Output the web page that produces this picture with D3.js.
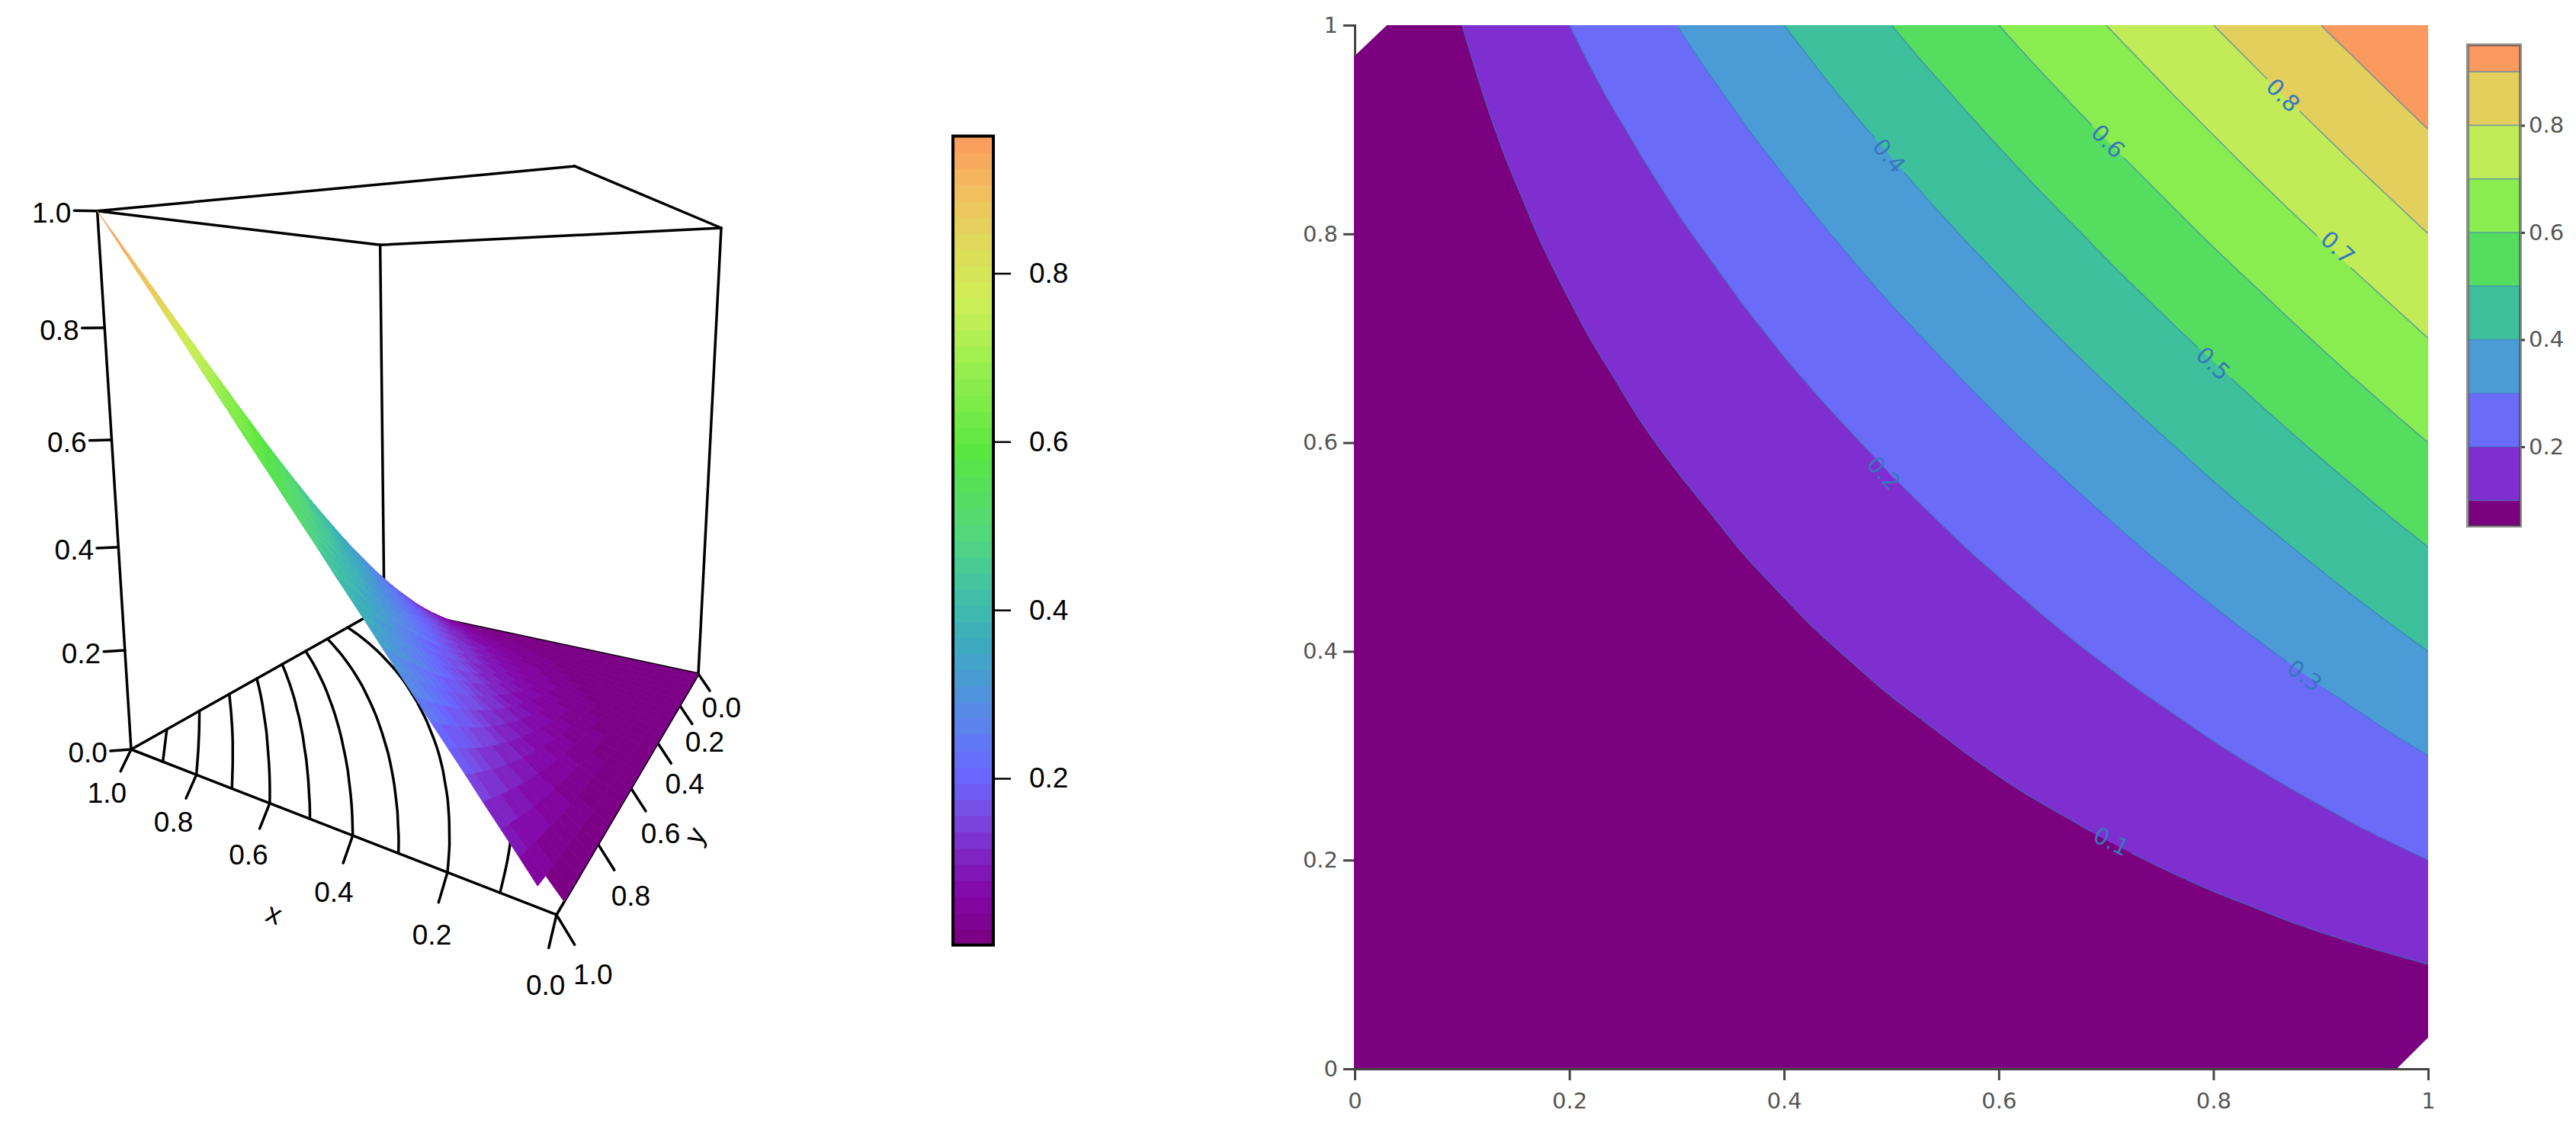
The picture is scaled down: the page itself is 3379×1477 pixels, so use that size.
<!DOCTYPE html>
<html><head><meta charset="utf-8">
<style>html,body{margin:0;padding:0;background:#fff}svg{display:block}</style>
<script src="https://d3js.org/d3.v7.min.js"></script></head>
<body><svg id="chart" width="3379" height="1477"></svg>
<script>
// Surface heights in thousandths on a 31x31 grid (upper triangle, the surface is symmetric).
// Estimated from where the contour bands and labels cross in the picture, not measured cell by cell.
const zUpper = [
[0,0,0,0,0,0,0,0,0,0,0,0,0,0,0,0,0,0,0,0,0,0,0,0,0,0,0,0,0,0,0],
[0,0,1,1,1,2,2,2,3,3,4,4,5,6,6,7,8,9,10,12,13,14,16,18,20,22,25,27,30,33],
[1,1,2,2,3,4,5,6,7,8,9,10,12,13,15,17,19,21,24,27,30,33,37,41,45,50,55,61,67],
[2,3,4,5,6,7,9,10,12,14,16,18,21,23,26,30,33,37,41,46,51,56,62,69,76,83,91,100],
[4,6,7,9,10,12,14,17,19,22,25,29,32,36,41,46,51,56,63,69,77,84,93,102,112,122,133],
[7,9,11,14,16,19,22,25,29,33,37,42,47,53,59,66,73,80,89,98,107,118,129,141,153,167],
[12,14,17,20,24,28,32,36,41,47,52,59,66,73,81,90,99,109,120,131,143,156,170,185,200],
[17,21,25,29,34,39,44,50,57,64,71,79,88,97,108,118,130,142,155,169,184,200,216,233],
[25,30,35,40,46,53,60,67,75,84,94,104,115,126,139,152,166,180,196,212,230,248,267],
[35,41,48,54,62,70,79,88,98,109,120,133,146,160,174,190,206,223,241,260,280,300],
[48,55,63,72,81,91,101,113,125,138,151,166,181,197,214,232,251,270,290,312,333],
[64,73,82,93,104,116,128,142,156,171,187,204,221,240,259,279,300,321,344,367],
[83,94,105,118,131,145,160,175,192,209,227,246,266,286,307,330,352,376,400],
[106,119,132,147,162,178,195,213,231,251,271,292,314,336,360,384,408,433],
[133,148,163,180,197,216,235,255,275,297,319,342,366,390,415,441,467],
[164,181,199,218,237,258,279,301,323,347,371,395,421,447,473,500],
[199,219,239,259,281,303,326,350,375,400,425,451,478,506,533],
[239,260,282,305,329,353,378,403,429,456,483,510,538,567],
[283,306,330,354,380,405,432,459,486,514,542,571,600],
[330,355,381,407,434,461,489,517,545,574,604,633],
[381,408,435,462,490,519,548,577,607,636,667],
[435,463,492,520,549,579,609,639,669,700],
[492,521,550,580,610,641,671,702,733],
[551,581,611,642,673,704,735,767],
[612,643,674,705,736,768,800],
[674,706,737,769,801,833],
[738,770,802,834,867],
[802,835,867,900],
[868,900,933],
[934,967],
[1000]
];
const gridSteps = 30;
const contourLevels = [0.1,0.2,0.3,0.4,0.5,0.6,0.7,0.8,0.9];
const bandColors = ["#7A0080","#7F2FCF","#6A6CF8","#4B9BD6","#3EC09C","#55DD60","#89EC4F","#C1EB57","#E3CF5C","#FB9A5E"];
const rampValues = [0.002,0.064,0.103,0.155,0.2,0.258,0.31,0.36,0.42,0.484,0.587,0.698,0.768,0.83,0.894,0.963];
const rampColors = ["#7A0080","#8406A8","#7F20C0","#7A4AE0","#6A63FF","#5D80F0","#4C98D8","#3DABC0","#40C0A5","#52D67F","#58E640","#9EEF50","#CFEE55","#DDDB5A","#F2C05E","#FB9A5E"];
const rampSteps = 50;
const axisTicks3D = [0,0.2,0.4,0.6,0.8,1];
const barTicks = [0.2,0.4,0.6,0.8];
const planeTicks = [0,0.2,0.4,0.6,0.8,1];
const labelLevels = [0.1,0.2,0.3,0.4,0.5,0.6,0.7,0.8];
const labelX = [0.705,0.493,0.885,0.498,0.80,0.702,0.916,0.865];
const labelY = [0.218,0.571,0.377,0.875,0.676,0.889,0.787,0.933];
const missingCorner = 0.03;

const N = gridSteps + 1;
const zGrid = d3.range(N).map(() => new Array(N).fill(0));
zUpper.forEach((row,i)=>row.forEach((v,k)=>{const j=i+k;zGrid[i][j]=v/1000;zGrid[j][i]=v/1000;}));
const flat = zGrid.flat();          // index = yi*N + xi
const svg = d3.select("#chart");
const defs = svg.append("defs");
const sans = "'Liberation Sans',Arial,sans-serif";
const dejavu = "'DejaVu Sans',sans-serif";
const rampLo = rampValues[0], rampHi = rampValues[rampValues.length-1];
const ramp = d3.scaleLinear().domain(rampValues).range(rampColors).interpolate(d3.interpolateRgb).clamp(true);
const stepWidth = (rampHi-rampLo)/rampSteps;
const stepOf = z => Math.max(0,Math.min(rampSteps-1,Math.floor((z-rampLo)/stepWidth)));
const stepped = z => ramp(rampLo+(stepOf(z)+0.5)*stepWidth);
const rings = d3.contours().size([N,N]).thresholds(contourLevels)(flat);

/* ---------- left: perspective box ---------- */
const cam = {a:-296.85,b:-476.23,c:-47.33,d:916,e:93.86,f:-161.1,g:-609.44,h:884,i:0.22847,j:-0.39758,k:-0.08175};
const depth = (x,y,z)=>1+cam.i*x+cam.j*y+cam.k*z;
const proj = (x,y,z)=>{const w=depth(x,y,z);return [(cam.a*x+cam.b*y+cam.c*z+cam.d)/w,(cam.e*x+cam.f*y+cam.g*z+cam.h)/w];};
const left = svg.append("g").attr("id","persp");
const lineStyle = s=>s.attr("stroke","#000").attr("stroke-width",3.5).attr("fill","none").attr("stroke-linecap","round");
const seg = (p,q)=>left.append("path").attr("d",d3.line()([proj(...p),proj(...q)])).call(lineStyle);
[[[1,1,0],[0,1,0]],[[0,1,0],[0,0,0]],[[0,0,0],[1,0,0]],[[1,0,0],[1,1,0]],
 [[1,1,1],[0,1,1]],[[0,1,1],[0,0,1]],[[0,0,1],[1,0,1]],[[1,0,1],[1,1,1]],
 [[1,1,0],[1,1,1]],[[1,0,0],[1,0,1]],[[0,0,0],[0,0,1]]].forEach(([p,q])=>seg(p,q));
// floor contours
const inGrid = v=>v>=0.5-1e-6&&v<=gridSteps+0.5+1e-6;
const openCurve = d3.line().curve(d3.curveBasis);
rings.forEach(r=>r.coordinates.forEach(poly=>poly.forEach(ring=>{
  let cur=[];const flush=()=>{if(cur.length>1)left.append("path").attr("d",openCurve(cur)).call(lineStyle);cur=[];};
  let start=ring.findIndex(p=>!(inGrid(p[0])&&inGrid(p[1])));if(start<0)start=0;
  for(let n=0;n<ring.length;n++){const p=ring[(start+n)%ring.length];
    if(inGrid(p[0])&&inGrid(p[1]))cur.push(proj((p[0]-0.5)/gridSteps,(p[1]-0.5)/gridSteps,0));else flush();}
  flush();
})));
// ticks
const tickSet=[
 {vals:axisTicks3D,at:v=>[v,1,0],off:[0,0.0305,-0.0313],lab:[-0.015,0.0784,-0.0483]},
 {vals:axisTicks3D,at:v=>[0,v,0],off:[-0.0315,0,-0.0346],lab:[-0.063,0,-0.0675]}];
tickSet.forEach(t=>t.vals.forEach(v=>{
  const p=t.at(v);const add=o=>[p[0]+o[0],p[1]+o[1],p[2]+o[2]];
  left.append("path").attr("d",d3.line()([proj(...p),proj(...add(t.off))])).call(lineStyle);
  const q=proj(...add(t.lab));
  left.append("text").attr("x",q[0]).attr("y",q[1]).attr("dy","0.36em").attr("text-anchor","middle")
   .attr("font-family",sans).attr("font-size",37).text(v.toFixed(1));
}));
axisTicks3D.forEach(v=>{
  const p=[1,1,v],q=[1.0343,1.0268,v];const e=proj(...q);
  left.append("path").attr("d",d3.line()([proj(...p),e])).call(lineStyle);
  left.append("text").attr("x",e[0]-4).attr("y",e[1]+2).attr("dy","0.36em").attr("text-anchor","end")
   .attr("font-family",sans).attr("font-size",37).text(v.toFixed(1));
});
[["x",359,1200,21],["y",913,1097,-60]].forEach(([t,x,y,r])=>left.append("text")
  .attr("transform",`translate(${x},${y}) rotate(${r})`).attr("text-anchor","middle").attr("dy","0.3em")
  .attr("font-family",sans).attr("font-size",37).text(t));
// surface, far cells first
const cells=[];
d3.range(gridSteps).forEach(yi=>d3.range(gridSteps).forEach(xi=>{
  if((xi===0&&yi===gridSteps-1)||(xi===gridSteps-1&&yi===0))return;
  const corners=[[xi,yi],[xi+1,yi],[xi+1,yi+1],[xi,yi+1]].map(([a,b])=>[a/gridSteps,b/gridSteps,zGrid[b][a]]);
  cells.push({corners,z:d3.mean(corners,c=>c[2]),w:d3.mean(corners,c=>depth(...c))});
}));
cells.sort((p,q)=>q.w-p.w);
left.append("g").selectAll("path").data(cells).join("path")
  .attr("d",c=>d3.line()(c.corners.map(p=>proj(...p)))+"Z")
  .attr("fill",c=>stepped(c.z)).attr("stroke",c=>stepped(c.z)).attr("stroke-width",0.8).attr("stroke-linejoin","round");

/* ---------- colour bar of the perspective panel ---------- */
const barS=d3.scaleLinear().domain([0.2,0.8]).range([1021,358.5]);
svg.append("g").selectAll("rect").data(d3.range(rampSteps)).join("rect")
  .attr("x",1250).attr("width",53)
  .attr("y",k=>barS(rampLo+(k+1)*stepWidth)).attr("height",k=>barS(rampLo+k*stepWidth)-barS(rampLo+(k+1)*stepWidth)+0.6)
  .attr("fill",k=>ramp(rampLo+(k+0.5)*stepWidth));
svg.append("rect").attr("x",1250).attr("width",53).attr("y",barS(rampHi)).attr("height",barS(rampLo)-barS(rampHi))
  .attr("fill","none").attr("stroke","#000").attr("stroke-width",4);
const barAxis=svg.append("g").attr("transform","translate(1305,0)").call(d3.axisRight(barS).tickValues(barTicks).tickSize(21).tickPadding(24).tickFormat(d3.format(".1f")));
barAxis.select(".domain").remove();
barAxis.selectAll("line").attr("stroke","#000").attr("stroke-width",2.5);
barAxis.selectAll("text").attr("font-family",sans).attr("font-size",37).attr("fill","#000");

/* ---------- right: filled contours ---------- */
const xS=d3.scaleLinear().domain([0,1]).range([1777,3185]);
const yS=d3.scaleLinear().domain([0,1]).range([1402,33]);
const styleAxis=(g,size)=>{g.select(".domain").attr("stroke","#444").attr("stroke-width",3);
  g.selectAll("line").attr("stroke","#444").attr("stroke-width",3);
  g.selectAll("text").attr("font-family",dejavu).attr("font-size",size).attr("fill","#555");};
const plainTick=d=>String(d);
svg.append("g").attr("transform","translate(0,1402)").call(d3.axisBottom(xS).tickValues(planeTicks).tickFormat(plainTick).tickSizeOuter(0).tickSize(15).tickPadding(16)).call(styleAxis,29);
svg.append("g").attr("transform","translate(1777,0)").call(d3.axisLeft(yS).tickValues(planeTicks).tickFormat(plainTick).tickSizeOuter(0).tickSize(15).tickPadding(7)).call(styleAxis,29);
defs.append("clipPath").attr("id","plane").append("rect").attr("x",xS(0)-1).attr("y",yS(1)).attr("width",xS(1)-xS(0)+1).attr("height",yS(0)-yS(1)-1);
const closedCurve=d3.line().curve(d3.curveBasisClosed);
const toPx=d=>d.coordinates.flatMap(poly=>poly.map(ring=>closedCurve(ring.slice(0,-1).map(p=>[xS((p[0]-0.5)/gridSteps),yS((p[1]-0.5)/gridSteps)])))).join("");
const plane=svg.append("g").attr("clip-path","url(#plane)");
const m=missingCorner;
plane.append("path").attr("fill",bandColors[0])
  .attr("d",d3.line().x(d=>xS(d[0])-(d[0]===0?1:0)).y(d=>yS(d[1])+(d[1]===0?1:0))([[0,0],[1-m,0],[1,m],[1,1],[m,1],[0,1-m]])+"Z");
plane.selectAll("path.band").data(rings).join("path").attr("class","band").attr("d",toPx).attr("fill",(d,i)=>bandColors[i+1]);
// contour lines, broken where a label sits
const mask=defs.append("mask").attr("id","gaps").attr("maskUnits","userSpaceOnUse").attr("x",0).attr("y",0).attr("width",3379).attr("height",1477);
mask.append("rect").attr("width",3379).attr("height",1477).attr("fill","#fff");
const labelRows=labelLevels.map((lev,i)=>{
  const gx=labelX[i]*gridSteps,gy=labelY[i]*gridSteps,xi=Math.min(gridSteps-1,Math.floor(gx)),yi=Math.min(gridSteps-1,Math.floor(gy));
  const dzdx=(zGrid[yi][xi+1]+zGrid[yi+1][xi+1]-zGrid[yi][xi]-zGrid[yi+1][xi])/2/(xS(1)-xS(0))*gridSteps;
  const dzdy=(zGrid[yi+1][xi]+zGrid[yi+1][xi+1]-zGrid[yi][xi]-zGrid[yi][xi+1])/2/(yS(1)-yS(0))*gridSteps;
  const angle=Math.atan2(dzdx,-dzdy)*180/Math.PI;
  return {lev,px:xS(labelX[i]),py:yS(labelY[i]),angle:angle>90?angle-180:(angle<-90?angle+180:angle)};
});
labelRows.forEach(d=>mask.append("rect").attr("x",-30).attr("y",-18).attr("width",60).attr("height",36).attr("fill","#000")
  .attr("transform",`translate(${d.px},${d.py}) rotate(${d.angle})`));
plane.append("g").attr("mask","url(#gaps)").selectAll("path").data(rings).join("path").attr("d",toPx)
  .attr("fill","none").attr("stroke","#3578BE").attr("stroke-opacity",0.6).attr("stroke-width",1.6);
plane.append("g").selectAll("text").data(labelRows).join("text")
  .attr("transform",d=>`translate(${d.px},${d.py}) rotate(${d.angle})`)
  .attr("text-anchor","middle").attr("dy","0.36em").attr("font-family",dejavu).attr("font-size",30)
  .attr("fill","#3578BE").text(d=>d.lev.toFixed(1));

/* ---------- colour bar of the contour panel ---------- */
const edges=[0.052,...contourLevels,0.95];
const cS=d3.scaleLinear().domain([0.052,0.95]).range([690,59]);
const bandRows=d3.pairs(edges).map(([lo,hi],i)=>({lo,hi,c:bandColors[i]}));
svg.append("g").selectAll("rect").data(bandRows).join("rect").attr("x",3238).attr("width",68)
  .attr("y",d=>cS(d.hi)).attr("height",d=>cS(d.lo)-cS(d.hi)).attr("fill",d=>d.c);
svg.append("g").selectAll("line").data(contourLevels).join("line").attr("x1",3238).attr("x2",3306).attr("y1",cS).attr("y2",cS)
  .attr("stroke","#3578BE").attr("stroke-opacity",0.6).attr("stroke-width",1.6);
svg.append("rect").attr("x",3237).attr("y",cS(0.95)).attr("width",69).attr("height",cS(0.052)-cS(0.95))
  .attr("fill","none").attr("stroke","#444").attr("stroke-opacity",0.6).attr("stroke-width",4);
const cAxis=svg.append("g").attr("transform","translate(3307,0)").call(d3.axisRight(cS).tickValues(barTicks).tickSize(5).tickPadding(5).tickFormat(d3.format(".1f")));
cAxis.select(".domain").remove();
cAxis.selectAll("line").attr("stroke","#444").attr("stroke-width",3);
cAxis.selectAll("text").attr("font-family",dejavu).attr("font-size",29).attr("fill","#555");
</script></body></html>
